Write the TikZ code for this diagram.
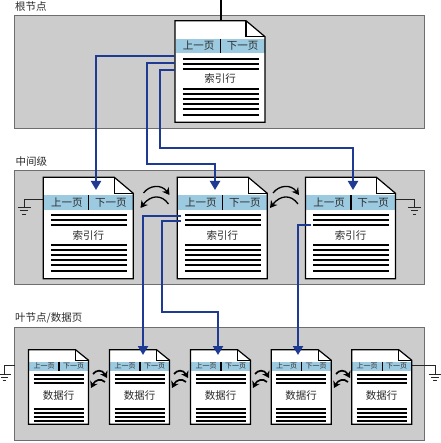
\documentclass[tikz,border=0pt]{standalone}
\usepackage{fontspec}
\setmainfont{Noto Sans CJK SC}
\usetikzlibrary{arrows.meta}
\definecolor{panelgray}{HTML}{CCCCCC}
\definecolor{edgegray}{HTML}{6E6E6E}
\definecolor{bandblue}{HTML}{9CCAE0}
\definecolor{linkblue}{HTML}{1F3A93}
\definecolor{txt}{HTML}{2A2A2A}
\tikzset{
  x=1pt,y=-1pt,
  panelbox/.style={draw=edgegray,fill=panelgray,line width=1pt},
  pageshape/.style={draw=black,fill=white,line width=1.2pt},
  hdrtext/.style={inner sep=0pt,text=txt,font=\fontsize{10.5pt}{11pt}\selectfont},
  smalltext/.style={inner sep=0pt,text=txt,font=\fontsize{7pt}{8pt}\selectfont},
  bodytext/.style={inner sep=0pt,text=txt,font=\fontsize{10.5pt}{12pt}\selectfont},
  paneltitle/.style={inner sep=0pt,anchor=west,text=txt,font=\fontsize{10.5pt}{12pt}\selectfont},
  rowline/.style={draw=black,line width=1.8pt},
  link/.style={draw=linkblue,line width=2pt},
  linkhead/.style={link,-{Triangle[width=10pt,length=9pt]}},
  swap/.style={draw=black,line width=1.3pt,-{Stealth[width=8pt,length=7pt]}},
  swaps/.style={draw=black,line width=1.7pt,-{Stealth[width=8pt,length=6.5pt]}},
  groundline/.style={draw=black!85,line width=1pt},
}
\newcommand{\bigpage}[3]{%
  \begin{scope}[shift={(#2,#3)}]
    \fill[white] (0,0) -- (71,0) -- (90,16) -- (90,101.5) -- (0,101.5) -- cycle;
    \fill[bandblue] (0.5,18) rectangle (89.5,32.5);
    \draw[black,line width=1.2pt] (71,0) -- (71,16) -- (90,16);
    \draw[pageshape,fill=none] (0,0) -- (71,0) -- (90,16) -- (90,101.5) -- (0,101.5) -- cycle;
    \draw[black,line width=1.2pt] (45.5,18) -- (45.5,32.5);
    \node[hdrtext] (#1prev) at (23.5,25.2) {上一页};
    \node[hdrtext] (#1next) at (67.5,25.2) {下一页};
    \foreach \yy in {38,43,48,68,73,78,83,88,94}
      \draw[rowline] (7.5,\yy) -- (83.5,\yy);
    \node[bodytext] (#1body) at (45,57.8) {索引行};
  \end{scope}}
\newcommand{\smallpage}[3]{%
  \begin{scope}[shift={(#2,#3)}]
    \fill[white] (0,0) -- (47,0) -- (60,10.5) -- (60,74.5) -- (0,74.5) -- cycle;
    \fill[bandblue] (0.5,12) rectangle (59.5,21);
    \draw[black,line width=1pt] (47,0) -- (47,10.5) -- (60,10.5);
    \draw[pageshape,fill=none] (0,0) -- (47,0) -- (60,10.5) -- (60,74.5) -- (0,74.5) -- cycle;
    \draw[black,line width=1.2pt] (30.5,12) -- (30.5,21);
    \node[smalltext] (#1prev) at (15.5,16.5) {上一页};
    \node[smalltext] (#1next) at (45,16.5) {下一页};
    \foreach \yy in {25,29,33,59,63,67,71}
      \draw[rowline,line width=2pt] (5,\yy) -- (55,\yy);
    \node[bodytext] (#1body) at (30,45.5) {数据行};
  \end{scope}}
\newcommand{\groundmark}[2]{%
  \draw[groundline] (#1-6.5,#2) -- (#1+6.5,#2) (#1-3.7,#2+3.4) -- (#1+3.7,#2+3.4) (#1-1.8,#2+6.8) -- (#1+1.8,#2+6.8);}
\newcommand{\swapbig}[2]{%
  \begin{scope}[shift={(#1,#2)}]
    \draw[swap] (0,3) .. controls (6,-5) and (18,-6) .. (26,5);
    \draw[swap] (25,14) .. controls (18,4) and (7,5) .. (-3,18);
  \end{scope}}
\newcommand{\swapsmall}[2]{%
  \begin{scope}[shift={(#1,#2)}]
    \draw[swaps] (0,3) .. controls (3,-1) and (9,-2) .. (14,7);
    \draw[swaps] (12,11) .. controls (8,7) and (2,9) .. (-2,17);
  \end{scope}}
\begin{document}
\begin{tikzpicture}
\useasboundingbox (0,0) rectangle (440,443);
\fill[white] (0,0) rectangle (440,443);
\path[panelbox] (14.5,15.5) rectangle (424,129);
\path[panelbox] (14.5,170.7) rectangle (424,284);
\path[panelbox] (14.5,327) rectangle (424,440);
\node[paneltitle] (t1) at (15,7) {根节点};
\node[paneltitle] (t2) at (15.5,161.5) {中间级};
\node[paneltitle] (t3) at (15,318) {叶节点/数据页};
\draw[groundline] (43.3,199.5) -- (24,199.5) -- (24,207.5);
\groundmark{24}{207.5}
\draw[groundline] (395.7,199.5) -- (414.5,199.5) -- (414.5,207.5);
\groundmark{414.5}{207.5}
\draw[groundline] (14.5,365.5) -- (4.5,365.5) -- (4.5,374);
\groundmark{4.5}{374}
\draw[groundline] (411.7,365.5) -- (435.5,365.5) -- (435.5,374);
\groundmark{435}{374}
\bigpage{r}{175}{20.7}
\bigpage{ma}{43.3}{177.3}
\bigpage{mb}{177.3}{177.3}
\bigpage{mc}{305.5}{177.3}
\smallpage{la}{28.5}{349.7}
\smallpage{lb}{109.5}{349.7}
\smallpage{lc}{190.5}{349.7}
\smallpage{ld}{271.2}{349.7}
\smallpage{le}{351.7}{349.7}
\coordinate (feed) at (221,0);
\coordinate (rtop) at (221,20.7);
\draw[black,line width=2pt] (feed) -- (rtop);
\swapbig{143.5}{190}
\swapbig{273}{190}
\swapsmall{93}{371}
\swapsmall{174}{371}
\swapsmall{255}{371}
\swapsmall{336}{371}
\coordinate (ra) at (175,56);
\coordinate (rb) at (175,63);
\coordinate (rc) at (175,70);
\coordinate (ta) at (96,190);
\coordinate (tb) at (215,190);
\coordinate (tc) at (353,190);
\draw[linkhead] (ra) -- (96,56) -- (ta);
\draw[linkhead] (rb) -- (147,63) -- (147,164) -- (215,164) -- (tb);
\draw[linkhead] (rc) -- (160,70) -- (160,148) -- (353,148) -- (tc);
\coordinate (ma) at (181,216);
\coordinate (mb) at (181,221);
\coordinate (mc) at (311,225);
\coordinate (la) at (143,355);
\coordinate (lb) at (218,355);
\coordinate (lc) at (298,355);
\draw[linkhead] (ma) -- (143,216) -- (la);
\draw[linkhead] (mb) -- (162,221) -- (162,312) -- (218,312) -- (lb);
\draw[linkhead] (mc) -- (298,225) -- (lc);
\end{tikzpicture}
\end{document}
